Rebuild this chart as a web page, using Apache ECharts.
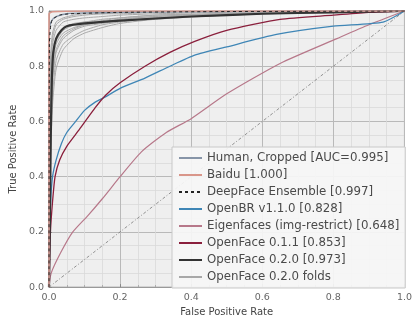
<!DOCTYPE html>
<html>
<head>
    <meta charset="utf-8">
    <script type="text/javascript" src="https://cdn.jsdelivr.net/npm/echarts@6/dist/echarts.min.js"></script>
    <style>
        html, body { margin: 0; padding: 0; background: #fff; }
    </style>
</head>
<body>

<div id="main" style="width: 415px;height:322px;"></div>

<script type="text/javascript">

    // tick labels
    var tickLabels = ['0.0', '0.2', '0.4', '0.6', '0.8', '1.0'];

    // ROC curves (false positive rate / true positive rate)
    var humanFpr = [0, 0, 0.003, 0.01, 0.02, 0.05, 0.1, 0.3, 1.0];
    var humanTpr = [0, 0.90, 0.95, 0.97, 0.98, 0.99, 0.993, 0.997, 1.0];

    var baiduFpr = [0, 0, 0.01, 0.1, 1.0];
    var baiduTpr = [0, 0.99, 0.997, 1.0, 1.0];

    var deepfaceFpr = [0, 0.001, 0.005, 0.01, 0.03, 0.06, 0.2, 0.5, 1.0];
    var deepfaceTpr = [0, 0.88, 0.95, 0.97, 0.985, 0.99, 0.995, 0.998, 1.0];

    var openbrFpr = [0, 0.002, 0.005, 0.01, 0.02, 0.035, 0.05, 0.075, 0.1, 0.13, 0.16, 0.2, 0.27, 0.34, 0.41, 0.5, 0.64, 0.8, 0.94, 1.0];
    var openbrTpr = [0, 0.2, 0.32, 0.4, 0.46, 0.52, 0.56, 0.6, 0.64, 0.67, 0.69, 0.72, 0.757, 0.8, 0.84, 0.87, 0.915, 0.945, 0.96, 1.0];

    var eigenFpr = [0, 0.006, 0.033, 0.067, 0.11, 0.15, 0.2, 0.26, 0.33, 0.4, 0.5, 0.65, 0.81, 0.9, 1.0];
    var eigenTpr = [0, 0.05, 0.125, 0.2, 0.26, 0.32, 0.4, 0.49, 0.56, 0.61, 0.7, 0.81, 0.9, 0.95, 1.0];

    var of011Fpr = [0, 0.002, 0.004, 0.01, 0.017, 0.03, 0.05, 0.085, 0.13, 0.16, 0.2, 0.27, 0.34, 0.41, 0.5, 0.65, 0.8, 0.9, 1.0];
    var of011Tpr = [0, 0.1, 0.2, 0.31, 0.4, 0.46, 0.51, 0.57, 0.65, 0.696, 0.74, 0.8, 0.85, 0.89, 0.93, 0.97, 0.985, 0.995, 1.0];

    var of020Fpr = [0, 0.003, 0.005, 0.008, 0.012, 0.02, 0.035, 0.05, 0.1, 0.2, 0.4, 0.6, 0.8, 1.0];
    var of020Tpr = [0, 0.3, 0.55, 0.75, 0.85, 0.9, 0.93, 0.945, 0.955, 0.965, 0.98, 0.99, 0.995, 1.0];

    var foldFpr = [0, 0.002, 0.005, 0.01, 0.02, 0.04, 0.07, 0.1, 0.15, 0.2, 0.3, 0.5, 0.7, 1.0];
    var fold1 = [0, 0.55, 0.78, 0.88, 0.93, 0.96, 0.97, 0.975, 0.98, 0.985, 0.99, 0.995, 0.998, 1];
    var fold2 = [0, 0.40, 0.65, 0.80, 0.88, 0.92, 0.94, 0.95, 0.96, 0.97, 0.98, 0.99, 0.995, 1];
    var fold3 = [0, 0.30, 0.55, 0.70, 0.82, 0.88, 0.91, 0.93, 0.95, 0.96, 0.975, 0.985, 0.995, 1];
    var fold4 = [0, 0.60, 0.82, 0.90, 0.95, 0.97, 0.98, 0.985, 0.99, 0.99, 0.995, 0.998, 1, 1];
    var fold5 = [0, 0.35, 0.60, 0.75, 0.85, 0.90, 0.93, 0.945, 0.955, 0.965, 0.975, 0.985, 0.993, 1];
    var fold6 = [0, 0.50, 0.72, 0.84, 0.90, 0.94, 0.955, 0.96, 0.97, 0.975, 0.985, 0.99, 0.997, 1];
    var fold7 = [0, 0.25, 0.48, 0.66, 0.79, 0.86, 0.90, 0.92, 0.94, 0.955, 0.97, 0.985, 0.995, 1];
    var fold8 = [0, 0.65, 0.85, 0.92, 0.96, 0.975, 0.985, 0.99, 0.99, 0.995, 0.997, 1, 1, 1];
    var fold9 = [0, 0.45, 0.70, 0.82, 0.89, 0.93, 0.95, 0.96, 0.965, 0.975, 0.985, 0.99, 0.995, 1];
    var fold10 = [0, 0.38, 0.62, 0.77, 0.86, 0.91, 0.935, 0.95, 0.96, 0.97, 0.98, 0.99, 0.995, 1];
    var folds = [fold1, fold2, fold3, fold4, fold5, fold6, fold7, fold8, fold9, fold10];

    var chanceFpr = [0, 1];
    var chanceTpr = [0, 1];

    var names = [
        'Human, Cropped [AUC=0.995]',
        'Baidu [1.000]',
        'DeepFace Ensemble [0.997]',
        'OpenBR v1.1.0 [0.828]',
        'Eigenfaces (img-restrict) [0.648]',
        'OpenFace 0.1.1 [0.853]',
        'OpenFace 0.2.0 [0.973]',
        'OpenFace 0.2.0 folds'
    ];

    function pairs(xs, ys) {
        var out = [];
        for (var i = 0; i < xs.length; i++) out.push([xs[i], ys[i]]);
        return out;
    }

    function line(name, xs, ys, color, width, type, z) {
        return {
            name: name,
            type: 'line',
            data: pairs(xs, ys),
            showSymbol: false,
            symbol: 'none',
            smooth: 0.2,
            z: z,
            silent: true,
            lineStyle: { color: color, width: width, type: type || 'solid' },
            itemStyle: { color: color }
        };
    }

    var series = [];
    folds.forEach(function (f) {
        series.push(line(names[7], foldFpr, f, '#a8a8a8', 1, 'solid', 2));
    });
    series.push(line('chance', chanceFpr, chanceTpr, '#777', 0.8, [3, 2, 1, 2], 2));
    series.push(line(names[4], eigenFpr, eigenTpr, '#b7788a', 1.2, 'solid', 3));
    series.push(line(names[3], openbrFpr, openbrTpr, '#3f86b6', 1.3, 'solid', 3));
    series.push(line(names[5], of011Fpr, of011Tpr, '#8a1f3c', 1.3, 'solid', 3));
    series.push(line(names[6], of020Fpr, of020Tpr, '#333', 2.2, 'solid', 4));
    series.push(line(names[0], humanFpr, humanTpr, '#8795a8', 1.3, 'solid', 4));
    series.push(line(names[1], baiduFpr, baiduTpr, '#d9968a', 1.5, 'solid', 4));
    series.push(line(names[2], deepfaceFpr, deepfaceTpr, '#222', 1, [3, 3], 5));

    var myChart = echarts.init(document.getElementById('main'));

    var axisCommon = {
        type: 'value',
        min: 0,
        max: 1,
        interval: 0.2,
        nameLocation: 'middle',
        nameTextStyle: { color: '#444', fontSize: 10, fontFamily: 'DejaVu Sans' },
        axisLine: { show: true, lineStyle: { color: '#999' } },
        axisTick: { show: true, inside: true, length: 3, lineStyle: { color: '#888' } },
        minorTick: { show: true, splitNumber: 4, length: 2, lineStyle: { color: '#aaa' } },
        axisLabel: {
            color: '#666', fontSize: 9.5, fontFamily: 'DejaVu Sans',
            formatter: function (v) { return tickLabels[Math.round(v * 5)]; }
        },
        splitLine: { show: true, lineStyle: { color: '#b9b9b9', width: 1 } },
        minorSplitLine: { show: true, lineStyle: { color: '#d9d9d9', width: 0.8 } }
    };

    var option = {
        animation: false,
        backgroundColor: '#fff',
        grid: {
            left: 46, right: 7, top: 11, bottom: 30,
            show: true,
            backgroundColor: '#efefef',
            borderColor: '#aaa',
            borderWidth: 1
        },
        xAxis: Object.assign({}, axisCommon, {
            name: 'False Positive Rate',
            nameGap: 18,
            axisLabel: Object.assign({}, axisCommon.axisLabel, { margin: 5 })
        }),
        yAxis: Object.assign({}, axisCommon, {
            name: 'True Positive Rate',
            nameGap: 30,
            axisLabel: Object.assign({}, axisCommon.axisLabel, { margin: 5 })
        }),
        legend: {
            orient: 'vertical',
            left: 172,
            top: 147,
            data: names,
            itemWidth: 23,
            itemHeight: 12,
            itemGap: 5,
            padding: [5, 6, 5, 6],
            backgroundColor: 'rgba(246,246,246,0.92)',
            borderColor: '#c8c8c8',
            borderWidth: 1,
            selectedMode: false,
            itemStyle: { opacity: 0 },
            textStyle: { color: '#4a4a4a', fontSize: 11.8, lineHeight: 12, fontFamily: 'DejaVu Sans' }
        },
        series: series
    };

    myChart.setOption(option);
</script>

</body>
</html>
